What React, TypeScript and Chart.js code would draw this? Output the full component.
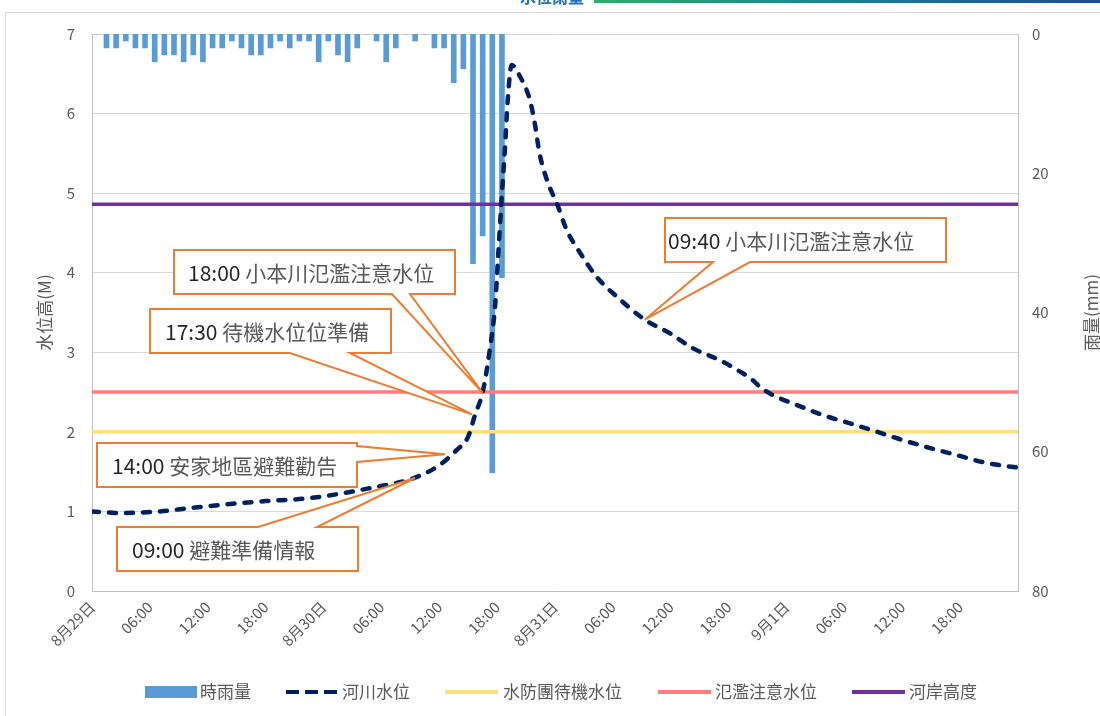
import React, { useEffect, useRef } from 'react';
import { Chart, registerables } from 'chart.js';

Chart.register(...registerables);

// ---------------- data ----------------
const tickLabels = [
  '8月29日', '06:00', '12:00', '18:00',
  '8月30日', '06:00', '12:00', '18:00',
  '8月31日', '06:00', '12:00', '18:00',
  '9月1日', '06:00', '12:00', '18:00',
];

const seriesNames = ['時雨量', '河川水位', '水防團待機水位', '氾濫注意水位', '河岸高度'];

// hourly rainfall (mm), hour index 0.. from 8/29 00:00
const rainMm = [
  0, 2, 2, 1, 2, 2, 4, 3, 3, 4, 3, 4, 2, 2, 1, 2, 3, 3, 2, 1, 2, 1,
  1, 4, 1, 3, 4, 2, 0, 1, 4, 2, 0, 1, 0, 2, 2, 7, 5, 33, 29, 63, 35,
];

// river water level (m), hours since 8/29 00:00
const levelHours = [
  0, 3, 7, 10, 14, 18, 22, 24, 27, 29.5, 32, 34, 36, 37.8, 39, 39.7, 40.5,
  41.2, 41.8, 42.1, 42.45, 42.8, 43.1, 43.5, 44.4, 45.4, 45.9, 46.4, 47.3,
  48.2, 49.2, 50.6, 52.3, 54.4, 57.3, 59.9, 62.3, 65.1, 67.15, 68.5, 69.2,
  70.6, 72.6, 75.8, 78.5, 80.9, 83.7, 86.5, 89.6, 92.7, 96,
];
const levelM = [
  1.0, 0.98, 1.0, 1.04, 1.09, 1.13, 1.16, 1.19, 1.25, 1.31, 1.37, 1.45,
  1.58, 1.77, 1.94, 2.21, 2.5, 3.0, 3.6, 4.2, 4.9, 5.54, 6.17, 6.61, 6.46,
  6.17, 5.88, 5.5, 5.12, 4.87, 4.54, 4.25, 3.95, 3.7, 3.41, 3.24, 3.05,
  2.9, 2.76, 2.65, 2.57, 2.46, 2.36, 2.21, 2.11, 2.02, 1.91, 1.81, 1.71,
  1.61, 1.55,
];

const standbyLevel = 2.0;
const floodCautionLevel = 2.5;
const bankHeight = 4.86;

const calloutTimes = ['18:00', '17:30', '14:00', '09:00', '09:40'];
const calloutTexts = ['小本川氾濫注意水位', '待機水位位準備', '安家地區避難勸告', '避難準備情報', '小本川氾濫注意水位'];
const calloutTipHours = [40.5, 39.4, 36.6, 33.5, 57.3];
const calloutTipLevels = [2.49, 2.22, 1.72, 1.42, 3.41];

// ---------------- layout / style ----------------
const FONT = '"Noto Sans CJK TC", "Noto Sans", sans-serif';
const GREY = '#595959';
const calloutBoxes = [
  { x: 174, y: 250, w: 281, h: 44, side: 'bottom', p1: 392, p2: 410, pad: 14 },
  { x: 150, y: 309, w: 241, h: 44, side: 'bottom', p1: 290, p2: 350, pad: 15 },
  { x: 97, y: 443, w: 260, h: 44, side: 'right', p1: 446, p2: 462, pad: 15 },
  { x: 117, y: 527, w: 241, h: 44, side: 'top', p1: 258, p2: 317, pad: 15 },
  { x: 665, y: 218, w: 281, h: 44, side: 'bottom', p1: 713, p2: 750, pad: 3 },
];

const framePlugin = {
  id: 'frame',
  beforeDraw(chart: any) {
    const ctx = chart.ctx;
    ctx.save();
    ctx.fillStyle = '#ffffff';
    ctx.fillRect(0, 0, chart.width, chart.height);
    ctx.strokeStyle = '#D9D9D9';
    ctx.lineWidth = 1;
    ctx.strokeRect(5.5, 12.5, 1300, 900);
    const g = ctx.createLinearGradient(594, 0, 1100, 0);
    g.addColorStop(0, '#2EAD6B');
    g.addColorStop(0.4, '#1C8C8C');
    g.addColorStop(1, '#1B4A9A');
    ctx.fillStyle = g;
    ctx.fillRect(594, 0, 506, 3);
    ctx.beginPath();
    ctx.rect(500, 0, 90, 5);
    ctx.clip();
    ctx.fillStyle = '#1F6FC0';
    ctx.font = `bold 16px ${FONT}`;
    ctx.textBaseline = 'alphabetic';
    ctx.fillText('水位雨量', 520, 3);
    ctx.restore();
  },
};

const overlayPlugin = {
  id: 'overlay',
  afterDatasetsDraw(chart: any) {
    const ctx = chart.ctx;
    const xs = chart.scales.x;
    const ys = chart.scales.y;
    ctx.save();
    calloutBoxes.forEach((b, k) => {
      const tx = xs.getPixelForValue(calloutTipHours[k]);
      const ty = ys.getPixelForValue(calloutTipLevels[k]);
      const L = b.x, T = b.y, R = b.x + b.w, B = b.y + b.h;
      ctx.beginPath();
      ctx.moveTo(L, T);
      if (b.side === 'top') { ctx.lineTo(b.p1, T); ctx.lineTo(tx, ty); ctx.lineTo(b.p2, T); }
      ctx.lineTo(R, T);
      if (b.side === 'right') { ctx.lineTo(R, b.p1); ctx.lineTo(tx, ty); ctx.lineTo(R, b.p2); }
      ctx.lineTo(R, B);
      if (b.side === 'bottom') { ctx.lineTo(b.p2, B); ctx.lineTo(tx, ty); ctx.lineTo(b.p1, B); }
      ctx.lineTo(L, B);
      ctx.closePath();
      ctx.fillStyle = '#ffffff';
      ctx.fill();
      ctx.strokeStyle = '#ED7D31';
      ctx.lineWidth = 2;
      ctx.lineJoin = 'miter';
      ctx.stroke();
      ctx.font = `21px ${FONT}`;
      ctx.textBaseline = 'middle';
      ctx.textAlign = 'left';
      const cy = T + b.h / 2 + 1;
      ctx.fillStyle = '#262626';
      const t = calloutTimes[k] + ' ';
      ctx.fillText(t, L + b.pad, cy);
      const tw = ctx.measureText(t).width;
      ctx.fillStyle = GREY;
      ctx.fillText(calloutTexts[k], L + b.pad + tw, cy);
    });
    ctx.restore();
  },
  afterDraw(chart: any) {
    const ctx = chart.ctx;
    const area = chart.chartArea;
    ctx.save();
    // axis titles
    ctx.fillStyle = GREY;
    ctx.font = `17px ${FONT}`;
    ctx.textAlign = 'center';
    ctx.textBaseline = 'middle';
    const cy = (area.top + area.bottom) / 2;
    ctx.save();
    ctx.translate(45, cy);
    ctx.rotate(-Math.PI / 2);
    ctx.fillText('水位高(M)', 0, 0);
    ctx.restore();
    ctx.save();
    ctx.translate(1092, cy);
    ctx.rotate(-Math.PI / 2);
    ctx.fillText('雨量(mm)', 0, 0);
    ctx.restore();

    // legend
    const ly = 692;
    ctx.font = `17px ${FONT}`;
    ctx.textAlign = 'left';
    ctx.fillStyle = '#5B9BD5';
    ctx.fillRect(145, ly - 6, 52, 12);
    ctx.lineCap = 'butt';
    ctx.lineWidth = 4;
    ctx.strokeStyle = '#002060';
    ctx.setLineDash([13, 6]);
    ctx.beginPath(); ctx.moveTo(286, ly); ctx.lineTo(338, ly); ctx.stroke();
    ctx.setLineDash([]);
    const lines = [
      { x: 445, c: '#FFE07F' },
      { x: 658, c: '#FF7C80' },
      { x: 852, c: '#7030A0' },
    ];
    lines.forEach((l) => {
      ctx.strokeStyle = l.c;
      ctx.beginPath(); ctx.moveTo(l.x, ly); ctx.lineTo(l.x + 53, ly); ctx.stroke();
    });
    ctx.fillStyle = GREY;
    const tx = [200, 342, 503, 715, 909];
    seriesNames.forEach((n, i) => ctx.fillText(n, tx[i], ly));
    ctx.restore();
  },
};

export default function App() {
  const ref = useRef<HTMLCanvasElement | null>(null);
  useEffect(() => {
    document.body.style.margin = '0';
    const canvas = ref.current;
    if (!canvas) return;
    const refLine = (v: number, color: string, order: number, label: string) => ({
      type: 'line' as const,
      label,
      data: [{ x: 0, y: v }, { x: 96, y: v }],
      xAxisID: 'x',
      yAxisID: 'y',
      borderColor: color,
      borderWidth: 3.5,
      pointRadius: 0,
      order,
    });
    const chart = new Chart(canvas, {
      type: 'line',
      data: {
        datasets: [
          {
            type: 'line',
            label: seriesNames[1],
            data: levelHours.map((h, i) => ({ x: h, y: levelM[i] })),
            xAxisID: 'x',
            yAxisID: 'y',
            borderColor: '#002060',
            borderWidth: 4.5,
            borderDash: [7, 10],
            borderCapStyle: 'round',
            pointRadius: 0,
            cubicInterpolationMode: 'monotone',
            order: 0,
          },
          refLine(bankHeight, '#7030A0', 1, seriesNames[4]),
          refLine(floodCautionLevel, '#FF7C80', 2, seriesNames[3]),
          refLine(standbyLevel, '#FFE07F', 3, seriesNames[2]),
          {
            type: 'bar',
            label: seriesNames[0],
            data: rainMm.map((v, i) => ({ x: i + 0.5, y: v })),
            xAxisID: 'x',
            yAxisID: 'y1',
            backgroundColor: '#5B9BD5',
            barThickness: 5,
            order: 4,
          },
        ] as any,
      },
      options: {
        responsive: false,
        animation: false,
        layout: { padding: { top: 34, left: 0, right: 0, bottom: 0 } },
        plugins: {
          legend: { display: false },
          tooltip: { enabled: false },
        },
        scales: {
          x: {
            type: 'linear',
            min: 0,
            max: 96,
            offset: false,
            grid: { display: false, drawTicks: false },
            border: { display: true, color: '#BFBFBF', width: 1 },
            ticks: {
              stepSize: 6,
              autoSkip: false,
              minRotation: 45,
              maxRotation: 45,
              padding: 7,
              color: GREY,
              font: { size: 15, family: FONT },
              callback: (v: any) => {
                const k = Math.round(Number(v) / 6);
                return tickLabels[k] ?? '';
              },
            },
            afterFit: (s: any) => { s.height = 125; },
          },
          y: {
            position: 'left',
            min: 0,
            max: 7,
            grid: { color: '#D9D9D9', drawTicks: false },
            border: { display: true, color: '#BFBFBF' },
            ticks: { stepSize: 1, padding: 17, color: GREY, font: { size: 15, family: FONT } },
            afterFit: (s: any) => { s.width = 92; },
          },
          y1: {
            position: 'right',
            reverse: true,
            min: 0,
            max: 80,
            grid: { display: false, drawTicks: false },
            border: { display: true, color: '#BFBFBF' },
            ticks: { stepSize: 20, padding: 14, color: GREY, font: { size: 15, family: FONT } },
            afterFit: (s: any) => { s.width = 82; },
          },
        },
      } as any,
      plugins: [framePlugin, overlayPlugin],
    });
    return () => chart.destroy();
  }, []);
  return <canvas ref={ref} width={1100} height={716} style={{ display: 'block' }} />;
}
